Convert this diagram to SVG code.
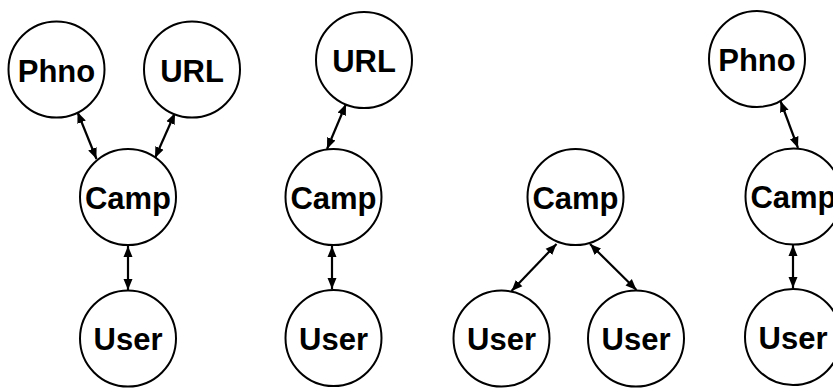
<svg xmlns="http://www.w3.org/2000/svg" width="833" height="388" viewBox="0 0 833 388">
  <style>
    .node circle { fill: #ffffff; stroke: #000000; stroke-width: 2; }
    .node text { font-family: "Liberation Sans", Arial, Helvetica, sans-serif; font-weight: bold; font-size: 31px; text-anchor: middle; fill: #000000; }
    .edges line { stroke: #000000; stroke-width: 2.2; marker-start: url(#arrow); marker-end: url(#arrow); }
  </style>
  <defs>
    <marker id="arrow" viewBox="0 0 11 10" refX="11" refY="5" markerWidth="11" markerHeight="10" markerUnits="userSpaceOnUse" orient="auto-start-reverse">
      <path d="M0,0.5 L11,5 L0,9.5 Z" fill="#000000"/>
    </marker>
  </defs>
  <rect width="833" height="388" fill="#ffffff"/>

  <!-- connectors -->
  <g class="edges" id="edges">
    <line x1="77.5" y1="112" x2="96.5" y2="159"/>
    <line x1="175" y1="113" x2="155" y2="158"/>
    <line x1="128" y1="246" x2="128" y2="290"/>
    <line x1="346" y1="104" x2="327" y2="149"/>
    <line x1="332" y1="246" x2="332" y2="289"/>
    <line x1="556.5" y1="244" x2="511.5" y2="291"/>
    <line x1="590" y1="244" x2="636.5" y2="290"/>
    <line x1="780.5" y1="101" x2="798" y2="148"/>
    <line x1="793" y1="245" x2="793" y2="288"/>
  </g>

  <!-- first graph -->
  <g class="node" id="g1-phno"><circle cx="56.5" cy="69.5" r="48"/><text x="56.5" y="81.5">Phno</text></g>
  <g class="node" id="g1-url"><circle cx="192" cy="69.5" r="48"/><text x="192" y="81.5">URL</text></g>
  <g class="node" id="g1-camp"><circle cx="128" cy="197" r="48"/><text x="128" y="208.5">Camp</text></g>
  <g class="node" id="g1-user"><circle cx="128" cy="338.5" r="48"/><text x="128" y="350">User</text></g>

  <!-- second graph -->
  <g class="node" id="g2-url"><circle cx="364" cy="60" r="48"/><text x="364" y="71.5">URL</text></g>
  <g class="node" id="g2-camp"><circle cx="333.5" cy="197" r="48"/><text x="333.5" y="208.5">Camp</text></g>
  <g class="node" id="g2-user"><circle cx="333.5" cy="338" r="48"/><text x="333.5" y="349.5">User</text></g>

  <!-- third graph -->
  <g class="node" id="g3-camp"><circle cx="575.5" cy="197" r="48"/><text x="575.5" y="208.5">Camp</text></g>
  <g class="node" id="g3-user-left"><circle cx="501.5" cy="338.5" r="48"/><text x="501.5" y="350">User</text></g>
  <g class="node" id="g3-user-right"><circle cx="636" cy="338.5" r="48"/><text x="636" y="350">User</text></g>

  <!-- fourth graph, clipped by the right edge -->
  <g class="node" id="g4-phno"><circle cx="757" cy="59" r="48"/><text x="757" y="70.5">Phno</text></g>
  <g class="node" id="g4-camp"><circle cx="793.5" cy="196.5" r="48"/><text x="793.5" y="208">Camp</text></g>
  <g class="node" id="g4-user"><circle cx="793" cy="337" r="48"/><text x="793" y="348.5">User</text></g>
</svg>
